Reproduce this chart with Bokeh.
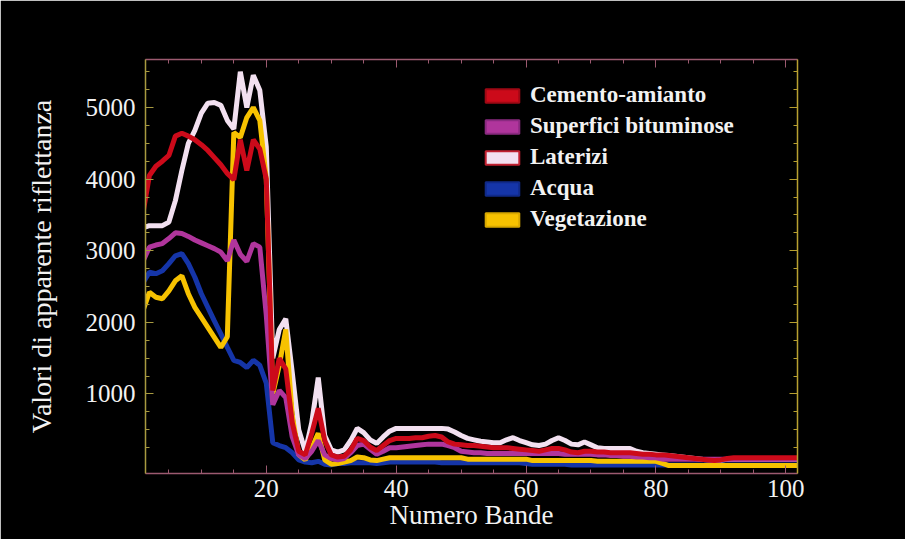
from bokeh.plotting import figure
from bokeh.models import (Range1d, FixedTicker, LinearAxis, Legend, LegendItem,
                          ColumnDataSource, CustomLabelingPolicy)
from bokeh.embed import file_html
from bokeh.resources import INLINE

bands = list(range(1, 103))

cemento = [3520, 4050, 4180, 4250, 4330, 4600, 4640, 4600, 4550, 4480,
           4400, 4300, 4200, 4080, 3990, 4550, 4120, 4550, 4420, 4000,
           1050, 1500, 1350, 600, 200, 150, 450, 800, 350, 150,
           120, 130, 220, 380, 350, 260, 210, 280, 350, 380,
           380, 380, 390, 390, 410, 420, 400, 330, 300, 290,
           280, 280, 270, 260, 250, 250, 250, 240, 230, 220,
           210, 200, 220, 240, 240, 220, 190, 180, 200, 200,
           190, 190, 180, 180, 180, 180, 170, 160, 160, 150,
           150, 140, 130, 120, 110, 100, 90, 80, 70, 80,
           100, 110, 110, 110, 110, 110, 110, 110, 110, 110,
           110, 110]

bituminose = [2850, 3050, 3080, 3100, 3170, 3250, 3240, 3200, 3150, 3110,
              3070, 3030, 2980, 2860, 3150, 2950, 2850, 3100, 3050, 2100,
              850, 1050, 950, 400, 150, 100, 200, 350, 150, 100,
              80, 100, 180, 280, 300, 230, 160, 200, 250, 250,
              260, 270, 280, 290, 300, 300, 300, 280, 250, 200,
              190, 180, 180, 170, 170, 170, 170, 170, 170, 170,
              170, 170, 170, 170, 170, 160, 160, 160, 160, 160,
              150, 150, 140, 140, 130, 130, 120, 120, 110, 110,
              90, 90, 90, 90, 90, 90, 90, 90, 90, 90,
              90, 90, 90, 90, 90, 90, 90, 90, 90, 90,
              90, 90]

laterizi = [3320, 3350, 3350, 3350, 3400, 3700, 4120, 4500, 4680, 4920,
            5060, 5070, 5030, 4820, 4700, 5500, 5000, 5450, 5240, 4450,
            1500, 1900, 2050, 1300, 500, 200, 600, 1230, 420, 220,
            190, 220, 350, 520, 460, 360, 310, 400, 480, 520,
            520, 520, 520, 520, 520, 520, 520, 510, 470, 420,
            380, 360, 340, 330, 320, 320, 360, 390, 350, 320,
            290, 280, 300, 350, 390, 350, 300, 290, 330, 290,
            250, 240, 240, 240, 240, 240, 200, 180, 170, 160,
            150, 140, 130, 120, 110, 100, 90, 80, 70, 70,
            90, 90, 90, 90, 90, 90, 90, 90, 90, 90,
            90, 90]

acqua = [2550, 2700, 2680, 2720, 2820, 2930, 2960, 2820, 2630, 2400,
         2210, 2020, 1840, 1650, 1470, 1440, 1370, 1470, 1400, 1150,
         320, 280, 250, 180, 80, 50, 40, 60, 20, 10,
         30, 30, 40, 40, 40, 40, 30, 40, 50, 50,
         50, 50, 50, 50, 50, 50, 40, 40, 40, 40,
         40, 40, 40, 40, 40, 40, 40, 40, 40, 30,
         20, 20, 20, 20, 20, 20, 10, 10, 10, 10,
         10, 10, 10, 10, 10, 10, 10, 10, 10, 10,
         10, 10, 10, 10, 10, 10, 10, 10, 10, 10,
         10, 10, 10, 10, 10, 10, 10, 10, 10, 10,
         10, 10]

vegetazione = [2160, 2420, 2350, 2330, 2440, 2580, 2650, 2400, 2210, 2070,
               1930, 1790, 1650, 1800, 4650, 4580, 4860, 5000, 4820, 4000,
               1000, 1400, 1900, 700, 150, 80, 250, 450, 80, 20,
               30, 50, 70, 120, 110, 80, 70, 90, 110, 110,
               110, 110, 110, 110, 110, 110, 110, 110, 110, 110,
               90, 90, 90, 90, 90, 90, 90, 90, 90, 90,
               70, 70, 70, 70, 70, 70, 70, 70, 70, 70,
               60, 60, 60, 60, 60, 60, 60, 60, 60, 60,
               30, 0, 0, 0, 0, 0, 0, 0, 0, 0,
               0, 0, 0, 0, 0, 0, 0, 0, 0, 0,
               0, 0]

names = ["Cemento-amianto", "Superfici bituminose", "Laterizi", "Acqua", "Vegetazione"]
colors = {"Cemento-amianto": "#cc0a1a", "Superfici bituminose": "#b0359c",
          "Laterizi": "#f2e0f0", "Acqua": "#1535a8", "Vegetazione": "#f7c200"}
swatch_border = {"Cemento-amianto": "#a00814", "Superfici bituminose": "#8a2a80",
                 "Laterizi": "#c02030", "Acqua": "#102a88", "Vegetazione": "#d8a800"}
series = {"Cemento-amianto": cemento, "Superfici bituminose": bituminose,
          "Laterizi": laterizi, "Acqua": acqua, "Vegetazione": vegetazione}

xticks = [20, 40, 60, 80, 100]
yticks = [1000, 2000, 3000, 4000, 5000]

FONT = "Liberation Serif"
TXT = "#f2f2f2"

p = figure(width=905, height=539, output_backend="svg", toolbar_location=None,
           x_range=Range1d(1.4, 101.8), y_range=Range1d(-110, 5670),
           background_fill_color="black", border_fill_color="black",
           min_border_left=145, min_border_top=59, min_border_right=108, min_border_bottom=66)
p.grid.visible = False
p.outline_line_color = None

# draw order: laterizi, acqua, vegetazione, bituminose, cemento
for nm in ["Laterizi", "Acqua", "Vegetazione", "Superfici bituminose", "Cemento-amianto"]:
    src = ColumnDataSource(dict(x=bands, y=series[nm]))
    p.line("x", "y", source=src, line_color=colors[nm], line_width=5, line_join="bevel")

x_ticker = FixedTicker(ticks=xticks, minor_ticks=list(range(5, 105, 5)))
y_ticker = FixedTicker(ticks=yticks, minor_ticks=list(range(250, 5750, 250)))

def style_axis(ax, line_color):
    ax.axis_line_color = line_color
    ax.axis_line_width = 1.5
    ax.major_tick_in = 8
    ax.major_tick_out = 0
    ax.minor_tick_in = 4
    ax.minor_tick_out = 0
    ax.major_tick_line_color = line_color
    ax.minor_tick_line_color = line_color
    ax.major_label_text_font = FONT
    ax.major_label_text_color = TXT
    ax.axis_label_text_font = FONT
    ax.axis_label_text_color = TXT
    ax.axis_label_text_font_style = "normal"

xa = p.xaxis[0]
xa.ticker = x_ticker
style_axis(xa, "#9c5a70")
xa.major_label_text_font_size = "25px"
xa.major_label_standoff = 6
xa.axis_label = "Numero Bande"
xa.axis_label_text_font_size = "27px"
xa.axis_label_standoff = 0

ya = p.yaxis[0]
ya.ticker = y_ticker
style_axis(ya, "#a89a40")
ya.major_label_text_font_size = "25px"
ya.major_label_standoff = 10
ya.axis_label = "Valori di apparente riflettanza"
ya.axis_label_text_font_size = "28px"
ya.axis_label_standoff = 26

top = LinearAxis(ticker=x_ticker,
                 major_label_policy=CustomLabelingPolicy(code="return new Set()"))
style_axis(top, "#9c5a70")
p.add_layout(top, "above")
right = LinearAxis(ticker=y_ticker,
                   major_label_policy=CustomLabelingPolicy(code="return new Set()"))
style_axis(right, "#b8a030")
p.add_layout(right, "right")

nan = float("nan")
items = []
for nm in names:
    r = p.quad(left=[nan], right=[nan], top=[nan], bottom=[nan],
               fill_color=colors[nm], line_color=swatch_border[nm], line_width=2)
    items.append(LegendItem(label=nm, renderers=[r]))

legend = Legend(items=items, location=(336, 241), orientation="vertical",
                background_fill_alpha=0, border_line_color=None,
                glyph_width=42, glyph_height=17, label_height=26, spacing=5,
                padding=0, margin=0, label_standoff=7,
                label_text_font=FONT, label_text_font_size="23px",
                label_text_font_style="bold", label_text_color=TXT)
p.add_layout(legend, "center")

open("out.html", "w").write(file_html(p, INLINE))
